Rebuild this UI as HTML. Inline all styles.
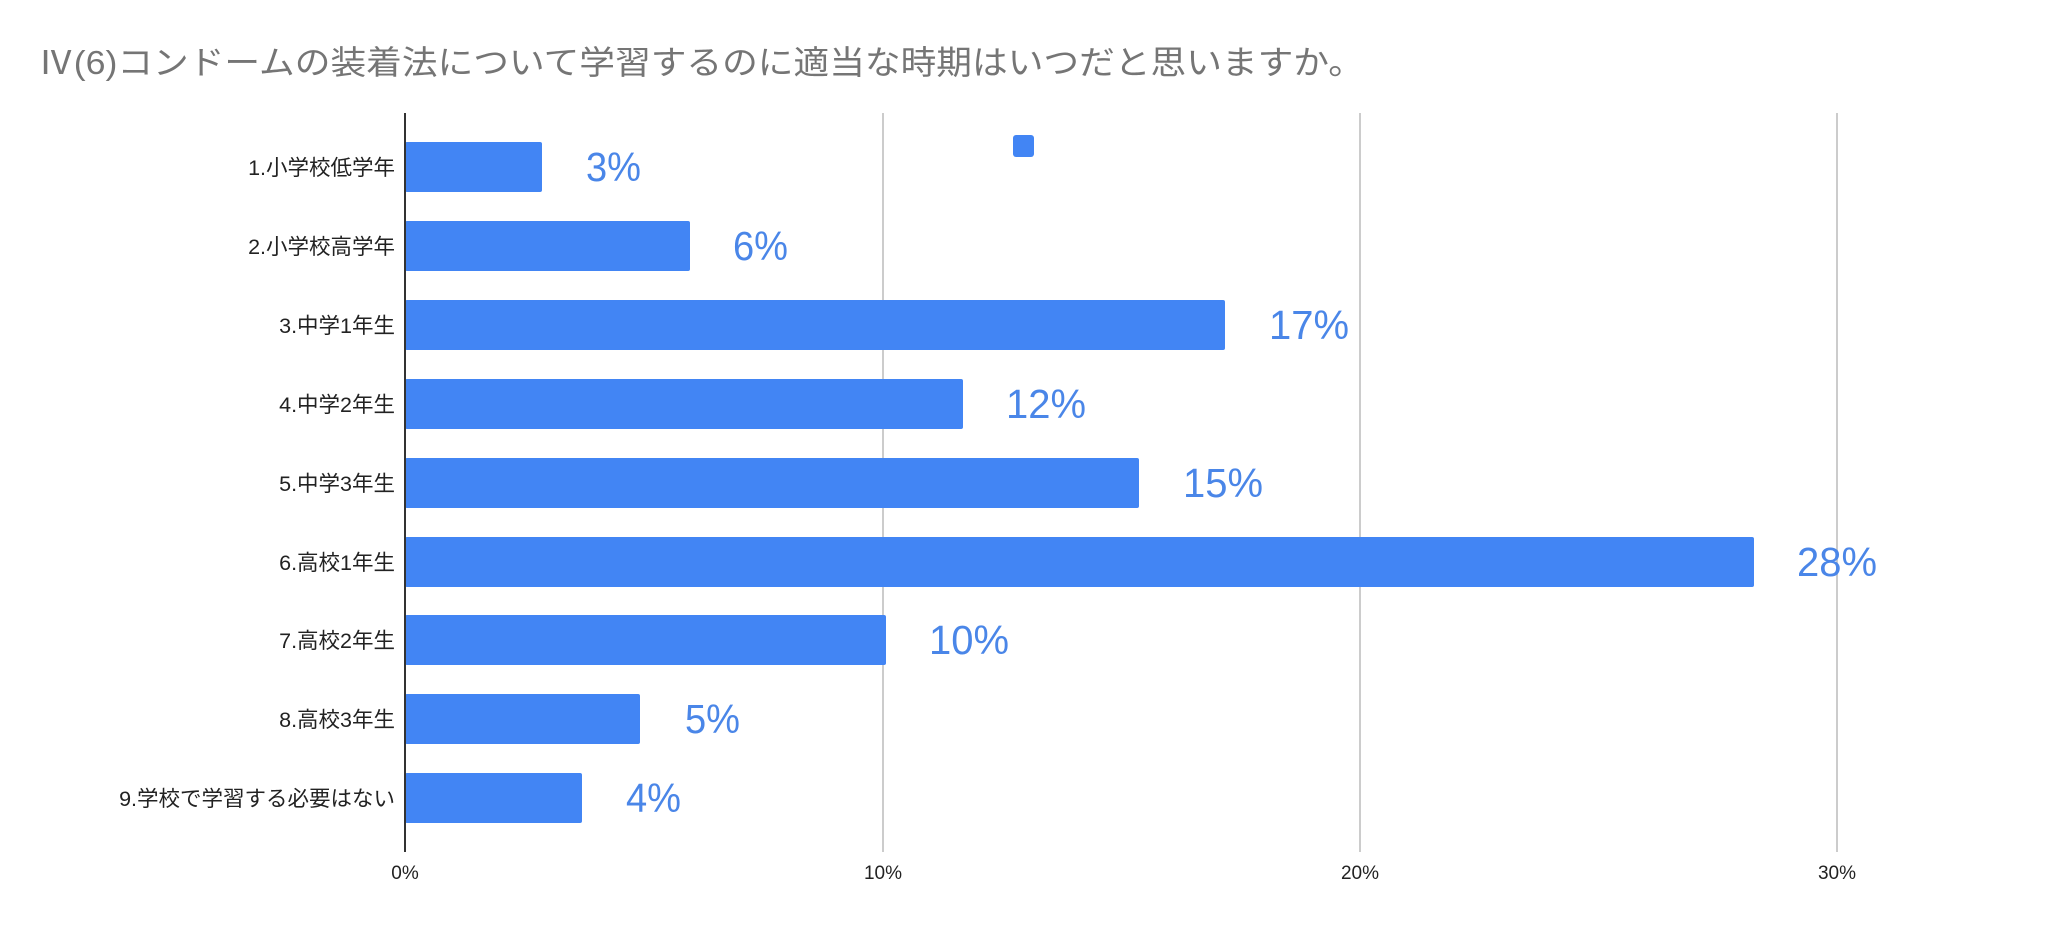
<!DOCTYPE html>
<html><head><meta charset="utf-8"><style>
html,body{margin:0;padding:0;background:#fff;}
svg{display:block;}
</style></head><body>
<svg width="2048" height="930" xmlns="http://www.w3.org/2000/svg">
<rect width="2048" height="930" fill="#fff"/>
<text x="38" y="74" font-family="'Liberation Sans','Noto Sans CJK JP',sans-serif" font-size="33" fill="#757575" textLength="1326" lengthAdjust="spacingAndGlyphs">Ⅳ(6)コンドームの装着法について学習するのに適当な時期はいつだと思いますか。</text>
<g stroke="#cccccc" stroke-width="2">
<line x1="883" y1="113" x2="883" y2="852"/>
<line x1="1360" y1="113" x2="1360" y2="852"/>
<line x1="1837" y1="113" x2="1837" y2="852"/>
</g>
<rect x="1013" y="135" width="21" height="22" rx="3" fill="#4285f4"/>
<g fill="#4285f4">
<rect x="405" y="142" width="137" height="50" rx="2"/>
<rect x="405" y="221" width="285" height="50" rx="2"/>
<rect x="405" y="300" width="820" height="50" rx="2"/>
<rect x="405" y="379" width="558" height="50" rx="2"/>
<rect x="405" y="458" width="734" height="50" rx="2"/>
<rect x="405" y="537" width="1349" height="50" rx="2"/>
<rect x="405" y="615" width="481" height="50" rx="2"/>
<rect x="405" y="694" width="235" height="50" rx="2"/>
<rect x="405" y="773" width="177" height="50" rx="2"/>
</g>
<line x1="405" y1="113" x2="405" y2="852" stroke="#333" stroke-width="2"/>
<g font-family="'Liberation Sans',sans-serif" font-size="41" fill="#4a86e8">
<text x="586" y="181" textLength="55" lengthAdjust="spacingAndGlyphs">3%</text>
<text x="733" y="260" textLength="55" lengthAdjust="spacingAndGlyphs">6%</text>
<text x="1269" y="339" textLength="80" lengthAdjust="spacingAndGlyphs">17%</text>
<text x="1006" y="418" textLength="80" lengthAdjust="spacingAndGlyphs">12%</text>
<text x="1183" y="497" textLength="80" lengthAdjust="spacingAndGlyphs">15%</text>
<text x="1797" y="576" textLength="80" lengthAdjust="spacingAndGlyphs">28%</text>
<text x="929" y="654" textLength="80" lengthAdjust="spacingAndGlyphs">10%</text>
<text x="685" y="733" textLength="55" lengthAdjust="spacingAndGlyphs">5%</text>
<text x="626" y="812" textLength="55" lengthAdjust="spacingAndGlyphs">4%</text>
</g>
<g font-family="'Liberation Sans','Noto Sans CJK JP',sans-serif" font-size="21.5" fill="#222" text-anchor="end">
<text x="395" y="175">1.小学校低学年</text>
<text x="395" y="254">2.小学校高学年</text>
<text x="395" y="333">3.中学1年生</text>
<text x="395" y="412">4.中学2年生</text>
<text x="395" y="491">5.中学3年生</text>
<text x="395" y="570">6.高校1年生</text>
<text x="395" y="648">7.高校2年生</text>
<text x="395" y="727">8.高校3年生</text>
<text x="395" y="806">9.学校で学習する必要はない</text>
</g>
<g font-family="'Liberation Sans',sans-serif" font-size="19" fill="#222" text-anchor="middle">
<text x="405" y="879">0%</text>
<text x="883" y="879">10%</text>
<text x="1360" y="879">20%</text>
<text x="1837" y="879">30%</text>
</g>
</svg>
</body></html>
